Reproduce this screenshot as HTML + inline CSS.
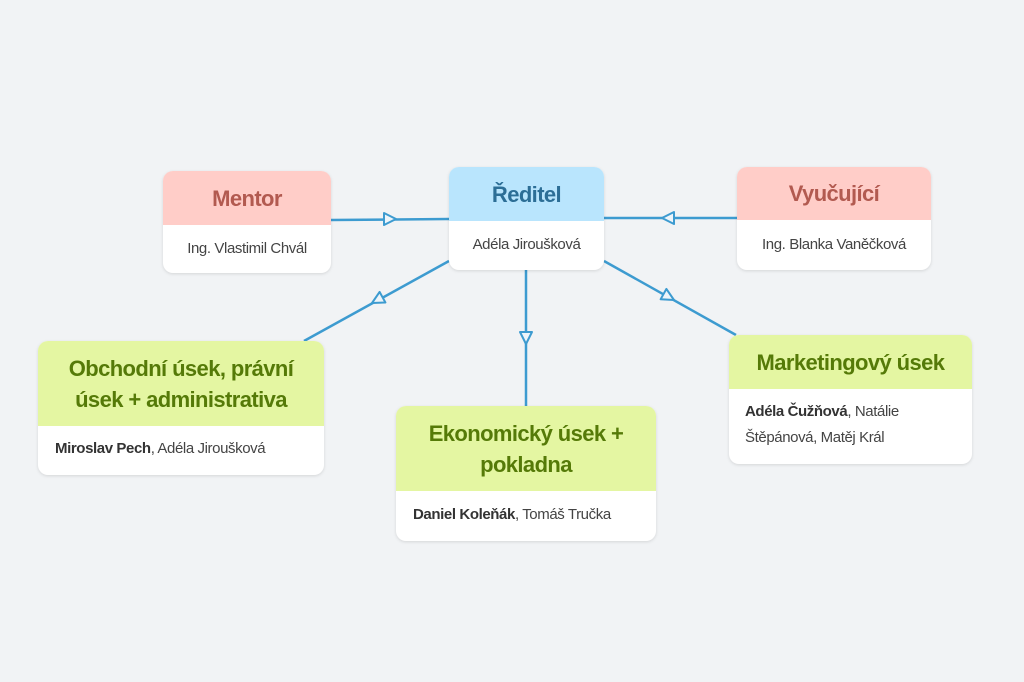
<!DOCTYPE html>
<html><head><meta charset="utf-8"><style>
body{margin:0;width:1024px;height:682px;background:#f1f3f5;position:relative;overflow:hidden;font-family:"Liberation Sans",sans-serif}
.n{position:absolute;background:#fff;border-radius:10px;box-shadow:0 1px 3px rgba(0,0,0,.12);overflow:hidden}
.h{display:flex;align-items:center;justify-content:center;text-align:center;font-weight:bold;font-size:22px;letter-spacing:-0.6px;line-height:31px}
.b{font-size:15px;color:#444;letter-spacing:-0.4px;line-height:26px}
.r .h{background:#ffcdc8;color:#b25a50}
.bl .h{background:#b9e5fd;color:#2c6e96}
.g .h{background:#e4f6a2;color:#557a08}
b{color:#333}
svg{position:absolute;left:0;top:0}
</style></head><body>
<svg width="1024" height="682">
<g stroke="#3d9bd0" stroke-width="2.5" fill="none">
<line x1="331" y1="220" x2="449" y2="219"/>
<line x1="604" y1="218" x2="737" y2="218"/>
<line x1="449" y1="261" x2="304" y2="341"/>
<line x1="526" y1="270" x2="526" y2="406"/>
<line x1="604" y1="261" x2="736" y2="335"/>
</g>
<g stroke="#3d9bd0" stroke-width="2" fill="#eef5fa" stroke-linejoin="round">
<polygon points="384,213 396,219 384,225"/>
<polygon points="674,212 662,218 674,224"/>
<polygon points="385.4,302.5 372,303 379.6,291.9"/>
<polygon points="520,332 526,344 532,332"/>
<polygon points="660.6,299.3 674,300 666.4,288.9"/>
</g>
</svg>
<div class="n r" style="left:163px;top:171px;width:168px;height:102px">
<div class="h" style="height:54px">Mentor</div>
<div class="b" style="text-align:center;padding-top:11px">Ing. Vlastimil Chvál</div></div>
<div class="n bl" style="left:449px;top:167px;width:155px;height:103px">
<div class="h" style="height:54px">Ředitel</div>
<div class="b" style="text-align:center;padding-top:11px">Adéla Jiroušková</div></div>
<div class="n r" style="left:737px;top:167px;width:194px;height:103px">
<div class="h" style="height:53px">Vyučující</div>
<div class="b" style="text-align:center;padding-top:12px">Ing. Blanka Vaněčková</div></div>
<div class="n g" style="left:38px;top:341px;width:286px;height:134px">
<div class="h" style="height:85px">Obchodní úsek, právní<br>úsek + administrativa</div>
<div class="b" style="padding:10px 0 0 17px"><b>Miroslav Pech</b>, Adéla Jiroušková</div></div>
<div class="n g" style="left:396px;top:406px;width:260px;height:135px">
<div class="h" style="height:85px">Ekonomický úsek +<br>pokladna</div>
<div class="b" style="padding:11px 0 0 17px"><b>Daniel Koleňák</b>, Tomáš Tručka</div></div>
<div class="n g" style="left:729px;top:335px;width:243px;height:129px">
<div class="h" style="height:54px">Marketingový úsek</div>
<div class="b" style="padding:10px 0 0 16px"><b>Adéla Čužňová</b>, Natálie<br>Štěpánová, Matěj Král</div></div>
</body></html>
